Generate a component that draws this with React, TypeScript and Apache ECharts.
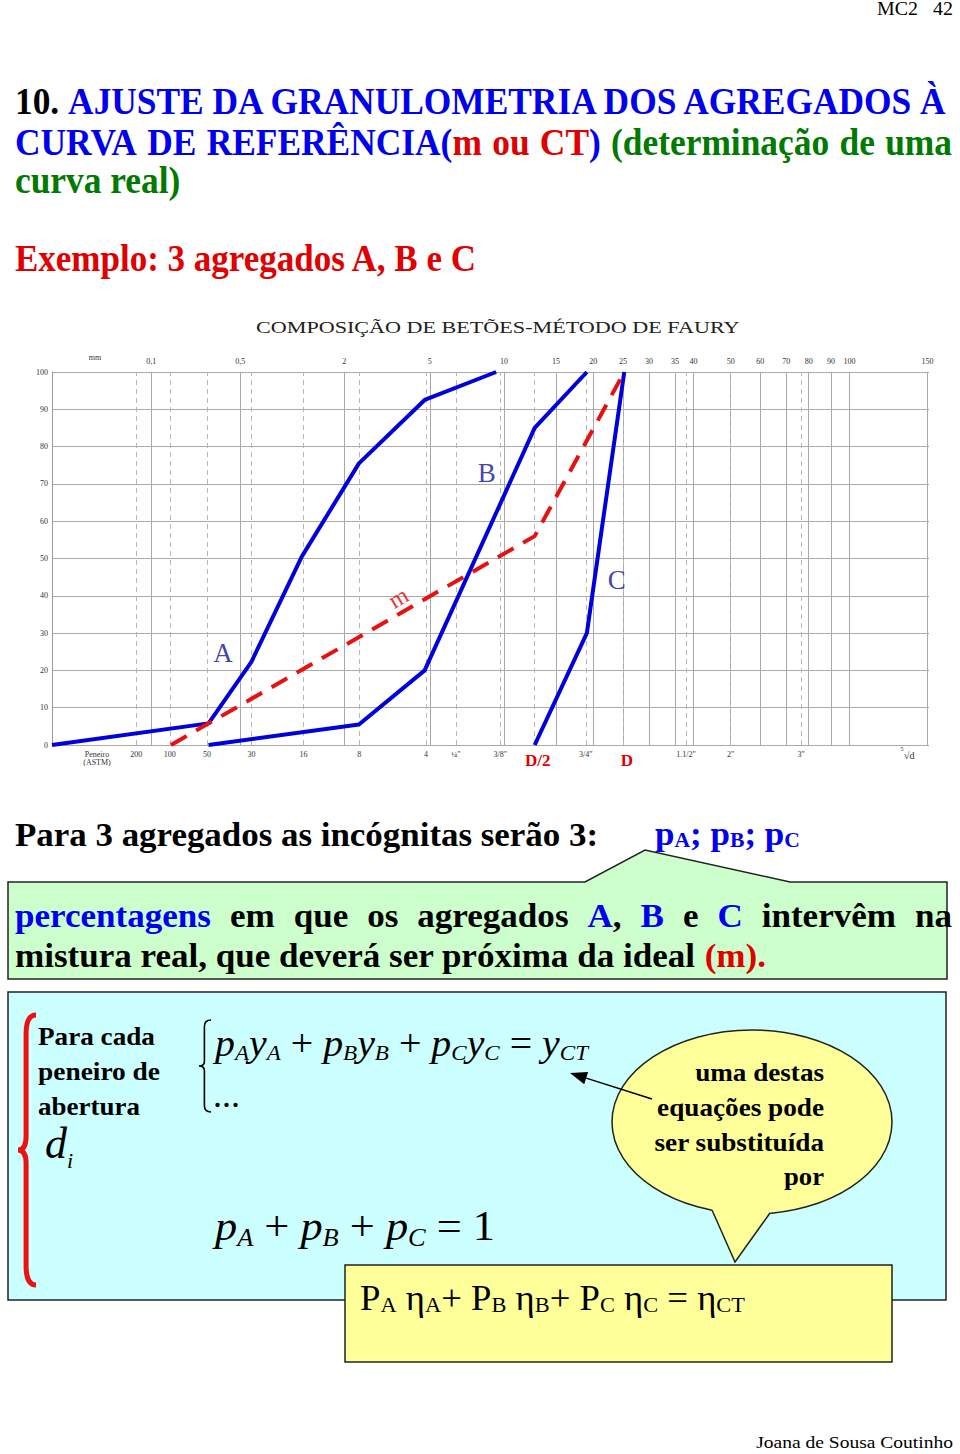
import React, { useEffect, useRef } from "react";
import * as echarts from "echarts";

const FONT = "'Liberation Serif', 'Times New Roman', serif";

// ---- chart data (sizes in mm, % passing) ----
const mmTicks = [0.1, 0.5, 2, 5, 10, 15, 20, 25, 30, 35, 40, 50, 60, 70, 80, 90, 100, 150];
const mmTickLabels = ["0,1", "0,5", "2", "5", "10", "15", "20", "25", "30", "35", "40", "50", "60", "70", "80", "90", "100", "150"];
const sieveSizes = [0.074, 0.149, 0.297, 0.59, 1.19, 2.38, 4.76, 6.35, 9.52, 12.7, 19.05, 25, 38.1, 50.8, 76.2];
const sieveLabels = ["200", "100", "50", "30", "16", "8", "4", "¼\"", "3/8\"", "D/2", "3/4\"", "D", "1.1/2\"", "2\"", "3\""];

const curveAmm = [0.0063, 0.297, 0.59, 1.19, 2.38, 4.76, 9.2];
const curveApct = [0, 5.8, 22.3, 50.5, 75.5, 92.5, 100];
const curveBmm = [0.297, 2.38, 4.76, 12.7, 19.05];
const curveBpct = [0, 5.5, 20, 85, 100];
const curveCmm = [12.7, 19.05, 25];
const curveCpct = [0, 30, 100];
const curveMmm = [0.149, 12.7, 25];
const curveMpct = [0, 56, 100];

const labelNames = ["A", "B", "C", "m"];
const labelMm = [0.378, 8.47, 23.7, 3.65];
const labelPct = [24.7, 72.9, 44.2, 39.5];

const D_MIN = 0.0063;
const D_MAX = 150;
const t5 = (d: number) => Math.pow(d, 0.2);

// ---- text helpers ----
let mctx: CanvasRenderingContext2D | null = null;
function measure(text: string, font: string) {
  if (!mctx) mctx = document.createElement("canvas").getContext("2d");
  mctx!.font = font;
  return mctx!.measureText(text).width;
}
type P = { t: string; c?: string; f?: string; dy?: number };
function runLine(pieces: P[], x: number, y: number, fitW?: number, s0?: number, defFont?: string) {
  const ws = pieces.map((p) => measure(p.t, p.f || defFont || `16px ${FONT}`));
  const total = ws.reduce((a, b) => a + b, 0);
  const s = fitW ? fitW / total : s0 ?? 1;
  let cx = x;
  const els: any[] = [];
  pieces.forEach((p, i) => {
    els.push({
      type: "text",
      x: cx,
      y: y + (p.dy || 0),
      scaleX: s,
      z: 20,
      style: { text: p.t, fill: p.c || "#000", font: p.f || defFont, align: "left", verticalAlign: "middle" },
    });
    cx += ws[i] * s;
  });
  return { els, s, width: total * s };
}
function justify(words: P[][], x: number, y: number, W: number, s: number, defFont: string) {
  const wordW = words.map((w) => w.reduce((a, p) => a + measure(p.t, p.f || defFont), 0) * s);
  const sum = wordW.reduce((a, b) => a + b, 0);
  const gap = (W - sum) / (words.length - 1);
  let cx = x;
  const els: any[] = [];
  words.forEach((w, i) => {
    els.push(...runLine(w, cx, y, undefined, s, defFont).els);
    cx += wordW[i] + gap;
  });
  return els;
}
function fitText(text: string, font: string, x: number, y: number, w: number, color: string, align: "left" | "right" | "center" = "left") {
  const s = w / measure(text, font);
  return { type: "text", x, y, scaleX: s, z: 20, style: { text, font, fill: color, align, verticalAlign: "middle" } };
}
function braceD(w: number, h: number) {
  const m = w * 0.45;
  return `M ${w} 0 Q ${m} 0 ${m} ${h * 0.07} L ${m} ${h / 2 - h * 0.05} Q ${m} ${h / 2} 0 ${h / 2} Q ${m} ${h / 2} ${m} ${h / 2 + h * 0.05} L ${m} ${h - h * 0.07} Q ${m} ${h} ${w} ${h}`;
}

const BLUE = "#0000ee";
const RED = "#e00000";
const GREEN = "#007a00";

export default function App() {
  const ref = useRef<HTMLDivElement>(null);
  useEffect(() => {
    echarts.graphic.registerShape("braceRed", echarts.graphic.extendPath(braceD(18, 270), {}));
    echarts.graphic.registerShape("braceBlack", echarts.graphic.extendPath(braceD(12, 92), {}));
    const chart = echarts.init(ref.current!, null, { renderer: "svg" });

    const b38 = `bold 38px ${FONT}`;
    const b34 = `bold 34px ${FONT}`;
    const g: any[] = [];

    // header
    g.push(fitText("MC2   42", `18px ${FONT}`, 953, 9, 76, "#000", "right"));
    const l1 = runLine([{ t: "10. ", c: "#000" }, { t: "AJUSTE DA GRANULOMETRIA DOS AGREGADOS À", c: BLUE }], 15, 101, 937, undefined, b38);
    g.push(...l1.els);
    g.push(
      ...justify(
        [
          [{ t: "CURVA", c: BLUE }],
          [{ t: "DE", c: BLUE }],
          [{ t: "REFERÊNCIA(", c: BLUE }, { t: "m", c: RED }],
          [{ t: "ou", c: RED }],
          [{ t: "CT", c: RED }, { t: ")", c: BLUE }],
          [{ t: "(determinação", c: GREEN }],
          [{ t: "de", c: GREEN }],
          [{ t: "uma", c: GREEN }],
        ],
        15, 142, 937, l1.s, b38
      )
    );
    g.push(...runLine([{ t: "curva real)", c: GREEN }], 15, 180, undefined, l1.s, b38).els);
    g.push(fitText("Exemplo: 3 agregados A, B e C", b38, 15, 258, 463, RED));

    // chart title and axis extras
    g.push(fitText("COMPOSIÇÃO DE BETÕES-MÉTODO DE FAURY", `16px ${FONT}`, 256, 328, 484, "#222"));
    g.push({ type: "text", x: 95, y: 357, z: 20, style: { text: "mm", font: `8px ${FONT}`, fill: "#333", align: "center", verticalAlign: "middle" } });
    g.push({ type: "text", x: 97, y: 754, z: 20, style: { text: "Peneiro", font: `8px ${FONT}`, fill: "#333", align: "center", verticalAlign: "middle" } });
    g.push({ type: "text", x: 97, y: 762, z: 20, style: { text: "(ASTM)", font: `8px ${FONT}`, fill: "#333", align: "center", verticalAlign: "middle" } });
    g.push({ type: "text", x: 902, y: 749, z: 20, style: { text: "5", font: `6px ${FONT}`, fill: "#333", align: "center", verticalAlign: "middle" } });
    g.push({ type: "text", x: 904, y: 755, z: 20, style: { text: "√d", font: `10px ${FONT}`, fill: "#333", align: "left", verticalAlign: "middle" } });

    // "Para 3 agregados..."
    g.push(fitText("Para 3 agregados as incógnitas serão 3:", b34, 15, 834, 583, "#000"));
    const sub20b = `bold 21px ${FONT}`;
    g.push(
      ...runLine(
        [
          { t: "p", c: BLUE }, { t: "A", c: BLUE, f: sub20b, dy: 7 }, { t: "; p", c: BLUE },
          { t: "B", c: BLUE, f: sub20b, dy: 7 }, { t: "; p", c: BLUE }, { t: "C", c: BLUE, f: sub20b, dy: 7 },
        ],
        655, 833, 145, undefined, b34
      ).els
    );

    // green callout
    g.push({
      type: "polygon", z: 5,
      shape: { points: [[8, 882], [585, 882], [645, 850], [790, 882], [947, 882], [947, 979], [8, 979]] },
      style: { fill: "#ccffcc", stroke: "#222", lineWidth: 1.5 },
    });
    const gl2 = runLine(
      [{ t: "mistura real, que deverá ser próxima da ideal ", c: "#000" }, { t: "(m).", c: RED }],
      15, 955, 751, undefined, b34
    );
    g.push(
      ...justify(
        [
          [{ t: "percentagens", c: BLUE }], [{ t: "em" }], [{ t: "que" }], [{ t: "os" }], [{ t: "agregados" }],
          [{ t: "A", c: BLUE }, { t: "," }], [{ t: "B", c: BLUE }], [{ t: "e" }], [{ t: "C", c: BLUE }],
          [{ t: "intervêm" }], [{ t: "na" }],
        ],
        15, 915, 937, gl2.s, b34
      )
    );
    g.push(...gl2.els);

    // cyan box
    g.push({ type: "rect", z: 5, shape: { x: 8, y: 992, width: 938, height: 308 }, style: { fill: "#ccffff", stroke: "#222", lineWidth: 1.5 } });
    g.push({ type: "braceRed", x: 18, y: 1015, z: 12, style: { fill: "none", stroke: "#ee1111", lineWidth: 5 } });
    const b26 = `bold 26px ${FONT}`;
    g.push(fitText("Para cada", b26, 38, 1036, 117, "#000"));
    g.push(fitText("peneiro de", b26, 38, 1071, 122, "#000"));
    g.push(fitText("abertura", b26, 38, 1106, 102, "#000"));
    g.push({ type: "text", x: 45, y: 1143, z: 20, style: { text: "d", font: `italic 44px ${FONT}`, fill: "#000", verticalAlign: "middle" } });
    g.push({ type: "text", x: 67, y: 1160, z: 20, style: { text: "i", font: `italic 22px ${FONT}`, fill: "#000", verticalAlign: "middle" } });

    // equations
    g.push({ type: "braceBlack", x: 199, y: 1020, z: 12, style: { fill: "none", stroke: "#000", lineWidth: 1.6 } });
    const it38 = `italic 38px ${FONT}`;
    const it22 = `italic 22px ${FONT}`;
    const up38 = `38px ${FONT}`;
    g.push(
      ...runLine(
        [
          { t: "p" }, { t: "A", f: it22, dy: 10 }, { t: "y" }, { t: "A", f: it22, dy: 10 }, { t: " + ", f: up38 },
          { t: "p" }, { t: "B", f: it22, dy: 10 }, { t: "y" }, { t: "B", f: it22, dy: 10 }, { t: " + ", f: up38 },
          { t: "p" }, { t: "C", f: it22, dy: 10 }, { t: "y" }, { t: "C", f: it22, dy: 10 }, { t: " = ", f: up38 },
          { t: "y" }, { t: "CT", f: it22, dy: 10 },
        ],
        215, 1043, 373, undefined, it38
      ).els
    );
    g.push({ type: "text", x: 213, y: 1095, z: 20, style: { text: "...", font: `36px ${FONT}`, fill: "#000", verticalAlign: "middle" } });
    const it42 = `italic 42px ${FONT}`;
    const it25 = `italic 25px ${FONT}`;
    const up42 = `42px ${FONT}`;
    g.push(
      ...runLine(
        [
          { t: "p" }, { t: "A", f: it25, dy: 12 }, { t: " + ", f: up42 }, { t: "p" }, { t: "B", f: it25, dy: 12 },
          { t: " + ", f: up42 }, { t: "p" }, { t: "C", f: it25, dy: 12 }, { t: " = 1", f: up42 },
        ],
        215, 1226, 280, undefined, it42
      ).els
    );

    // speech bubble
    g.push({ type: "ellipse", z: 8, shape: { cx: 752, cy: 1122, rx: 140, ry: 92 }, style: { fill: "#ffff99", stroke: "#222", lineWidth: 1.5 } });
    g.push({ type: "polygon", z: 9, shape: { points: [[706, 1200], [712, 1210], [735, 1262], [770, 1213], [776, 1200]] }, style: { fill: "#ffff99" } });
    g.push({ type: "polyline", z: 9, shape: { points: [[712, 1210], [735, 1262], [770, 1213]] }, style: { fill: "none", stroke: "#222", lineWidth: 1.5 } });
    g.push(fitText("uma destas", b26, 824, 1072, 129, "#000", "right"));
    g.push(fitText("equações pode", b26, 824, 1107, 167, "#000", "right"));
    g.push(fitText("ser substituída", b26, 824, 1142, 170, "#000", "right"));
    g.push(fitText("por", b26, 824, 1177, 40, "#000", "right"));

    // arrow
    const tip = [570, 1073];
    const tail = [652, 1099];
    const dx = tip[0] - tail[0], dyv = tip[1] - tail[1];
    const L = Math.hypot(dx, dyv);
    const ux = dx / L, uy = dyv / L;
    const bx = tip[0] - ux * 17, by = tip[1] - uy * 17;
    g.push({ type: "line", z: 14, shape: { x1: tail[0], y1: tail[1], x2: bx, y2: by }, style: { stroke: "#000", lineWidth: 1.5 } });
    g.push({
      type: "polygon", z: 14,
      shape: { points: [[tip[0], tip[1]], [bx - uy * 6.5, by + ux * 6.5], [bx + uy * 6.5, by - ux * 6.5]] },
      style: { fill: "#000" },
    });

    // yellow box
    g.push({ type: "rect", z: 10, shape: { x: 345, y: 1265, width: 547, height: 97 }, style: { fill: "#ffff99", stroke: "#222", lineWidth: 1.5 } });
    const up36 = `36px ${FONT}`;
    const s22 = `22px ${FONT}`;
    g.push(
      ...runLine(
        [
          { t: "P" }, { t: "A", f: s22, dy: 7 }, { t: " η" }, { t: "A", f: s22, dy: 7 }, { t: "+ P" }, { t: "B", f: s22, dy: 7 },
          { t: " η" }, { t: "B", f: s22, dy: 7 }, { t: "+ P" }, { t: "C", f: s22, dy: 7 }, { t: " η" }, { t: "C", f: s22, dy: 7 },
          { t: " = η" }, { t: "CT", f: s22, dy: 7 },
        ],
        360, 1298, 385, undefined, up36
      ).els
    );

    // footer
    g.push(fitText("Joana de Sousa Coutinho", `17px ${FONT}`, 953, 1442, 197, "#000", "right"));

    const axisLabelStyle = { fontSize: 8, fontFamily: FONT, color: "#333" };
    const toData = (mm: number[], pct: number[]) => mm.map((d, i) => [t5(d), pct[i]]);

    const option: any = {
      animation: false,
      backgroundColor: "#fff",
      grid: { left: 52, top: 372, width: 877, height: 373 },
      xAxis: { type: "value", min: t5(D_MIN), max: t5(D_MAX), show: false },
      yAxis: {
        type: "value", min: 0, max: 100, interval: 10,
        axisLine: { show: true, lineStyle: { color: "#999", width: 1 } },
        axisTick: { show: false },
        axisLabel: { ...axisLabelStyle, margin: 4 },
        splitLine: { show: true, lineStyle: { color: "#aaa", width: 1 } },
      },
      series: [
        {
          type: "line", z: 1, data: [[t5(D_MIN), 0]], symbol: "none", lineStyle: { width: 0 }, silent: true,
          markLine: {
            silent: true, symbol: ["none", "none"], animation: false,
            lineStyle: { color: "#a8a8a8", width: 1, type: "solid" },
            label: { show: true, position: "end", distance: 7, ...axisLabelStyle },
            data: mmTicks.map((d, i) => ({ xAxis: t5(d), label: { formatter: mmTickLabels[i] } })),
          },
        },
        {
          type: "line", z: 1, data: [[t5(D_MIN), 0]], symbol: "none", lineStyle: { width: 0 }, silent: true,
          markLine: {
            silent: true, symbol: ["none", "none"], animation: false,
            lineStyle: { color: "#b8b8b8", width: 1, type: [5, 4] },
            label: { show: true, position: "start", distance: 5, ...axisLabelStyle },
            data: sieveSizes.map((d, i) => {
              const lbl = sieveLabels[i];
              const special = lbl === "D" || lbl === "D/2";
              return {
                xAxis: t5(d),
                label: special
                  ? { formatter: lbl, color: RED, fontSize: 17, fontWeight: "bold", fontFamily: FONT, distance: 7, offset: [4, 0] }
                  : { formatter: lbl },
              };
            }),
          },
        },
        { name: "A", type: "line", z: 5, data: toData(curveAmm, curveApct), symbol: "none", clip: false, lineStyle: { color: "#0000dd", width: 4 } },
        { name: "B", type: "line", z: 5, data: toData(curveBmm, curveBpct), symbol: "none", clip: false, lineStyle: { color: "#0000dd", width: 4 } },
        { name: "C", type: "line", z: 5, data: toData(curveCmm, curveCpct), symbol: "none", clip: false, lineStyle: { color: "#0000dd", width: 4 } },
        { name: "m", type: "line", z: 6, data: toData(curveMmm, curveMpct), symbol: "none", clip: false, lineStyle: { color: "#e81010", width: 4, type: [18, 11] } },
        {
          type: "scatter", z: 7, symbolSize: 1, itemStyle: { color: "rgba(0,0,0,0)" }, silent: true,
          data: labelNames.map((n, i) => ({
            value: [t5(labelMm[i]), labelPct[i]],
            label: {
              show: true, position: "inside", formatter: n, fontFamily: FONT,
              fontSize: n === "m" ? 24 : 27, color: n === "m" ? RED : "#11119a", rotate: n === "m" ? 30 : 0,
            },
          })),
        },
      ],
      graphic: { elements: g },
    };
    chart.setOption(option);
    return () => chart.dispose();
  }, []);
  return <div ref={ref} style={{ position: "absolute", left: 0, top: 0, width: 960, height: 1454, background: "#fff" }} />;
}
